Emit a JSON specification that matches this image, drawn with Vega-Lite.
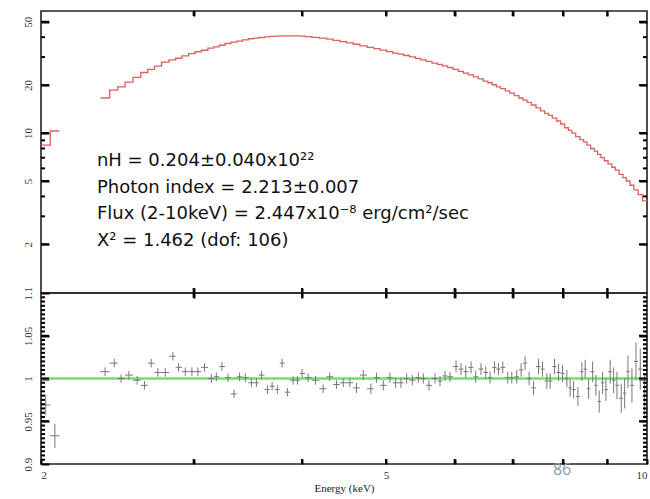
{
  "$schema": "https://vega.github.io/schema/vega-lite/v6.json",
  "padding": {"left": 13, "top": 9, "right": 0, "bottom": 0},
  "background": "white",
  "config": {
    "view": {"stroke": "#222", "strokeWidth": 1.6},
    "axis": {"labelFont": "Liberation Serif", "titleFont": "Liberation Serif", "labelColor": "#333", "titleColor": "#222", "ticks": true, "tickColor": "#000", "tickOpacity": 1, "tickWidth": 2, "zindex": 1, "domain": false, "grid": false, "labelFontSize": 11}
  },
  "datasets": {
    "bins": [
      {"E":2.025,"lo":2.0,"hi":2.05,"model":8.4,"ratio":0.969,"err":0.012,"seg":"a"},
      {"E":2.075,"lo":2.05,"hi":2.10,"model":10.3,"ratio":0.933,"err":0.014,"seg":"a"},
      {"lo":2.10,"model":10.3,"seg":"a"},
      {"E":2.371,"lo":2.342,"hi":2.400,"model":16.6,"ratio":1.008,"err":0.005,"seg":"b"},
      {"E":2.430,"lo":2.400,"hi":2.452,"model":18.6,"ratio":1.018,"err":0.005,"seg":"b"},
      {"E":2.474,"lo":2.452,"hi":2.500,"model":19.5,"ratio":1.000,"err":0.005,"seg":"b"},
      {"E":2.526,"lo":2.500,"hi":2.554,"model":20.9,"ratio":1.004,"err":0.005,"seg":"b"},
      {"E":2.582,"lo":2.554,"hi":2.607,"model":22.4,"ratio":0.998,"err":0.005,"seg":"b"},
      {"E":2.633,"lo":2.607,"hi":2.656,"model":24.0,"ratio":0.992,"err":0.005,"seg":"b"},
      {"E":2.680,"lo":2.656,"hi":2.704,"model":25.1,"ratio":1.018,"err":0.005,"seg":"b"},
      {"E":2.728,"lo":2.704,"hi":2.755,"model":26.3,"ratio":1.007,"err":0.005,"seg":"b"},
      {"E":2.782,"lo":2.755,"hi":2.810,"model":27.9,"ratio":1.007,"err":0.005,"seg":"b"},
      {"E":2.839,"lo":2.810,"hi":2.860,"model":28.8,"ratio":1.026,"err":0.005,"seg":"b"},
      {"E":2.882,"lo":2.860,"hi":2.908,"model":29.5,"ratio":1.013,"err":0.005,"seg":"b"},
      {"E":2.934,"lo":2.908,"hi":2.960,"model":30.5,"ratio":1.008,"err":0.005,"seg":"b"},
      {"E":2.986,"lo":2.960,"hi":3.010,"model":31.5,"ratio":1.008,"err":0.005,"seg":"b"},
      {"E":3.034,"lo":3.010,"hi":3.061,"model":32.4,"ratio":1.008,"err":0.005,"seg":"b"},
      {"E":3.088,"lo":3.061,"hi":3.116,"model":33.1,"ratio":1.013,"err":0.005,"seg":"b"},
      {"E":3.144,"lo":3.116,"hi":3.165,"model":34.1,"ratio":1.000,"err":0.005,"seg":"b"},
      {"E":3.186,"lo":3.165,"hi":3.210,"model":34.8,"ratio":1.002,"err":0.005,"seg":"b"},
      {"E":3.234,"lo":3.210,"hi":3.260,"model":35.6,"ratio":1.014,"err":0.005,"seg":"b"},
      {"E":3.286,"lo":3.260,"hi":3.312,"model":36.5,"ratio":1.001,"err":0.005,"seg":"b"},
      {"E":3.339,"lo":3.312,"hi":3.364,"model":37.2,"ratio":0.982,"err":0.005,"seg":"b"},
      {"E":3.389,"lo":3.364,"hi":3.415,"model":37.8,"ratio":1.002,"err":0.005,"seg":"b"},
      {"E":3.441,"lo":3.415,"hi":3.469,"model":38.5,"ratio":1.001,"err":0.005,"seg":"b"},
      {"E":3.497,"lo":3.469,"hi":3.520,"model":39.1,"ratio":0.995,"err":0.005,"seg":"b"},
      {"E":3.544,"lo":3.520,"hi":3.567,"model":39.4,"ratio":0.995,"err":0.005,"seg":"b"},
      {"E":3.591,"lo":3.567,"hi":3.620,"model":39.8,"ratio":1.004,"err":0.005,"seg":"b"},
      {"E":3.649,"lo":3.620,"hi":3.672,"model":40.2,"ratio":0.987,"err":0.005,"seg":"b"},
      {"E":3.695,"lo":3.672,"hi":3.721,"model":40.5,"ratio":0.991,"err":0.005,"seg":"b"},
      {"E":3.747,"lo":3.721,"hi":3.770,"model":40.6,"ratio":0.987,"err":0.005,"seg":"b"},
      {"E":3.794,"lo":3.770,"hi":3.821,"model":40.8,"ratio":1.018,"err":0.005,"seg":"b"},
      {"E":3.848,"lo":3.821,"hi":3.877,"model":40.8,"ratio":0.984,"err":0.005,"seg":"b"},
      {"E":3.907,"lo":3.877,"hi":3.929,"model":40.8,"ratio":0.998,"err":0.005,"seg":"b"},
      {"E":3.952,"lo":3.929,"hi":3.976,"model":40.7,"ratio":0.998,"err":0.005,"seg":"b"},
      {"E":4.001,"lo":3.976,"hi":4.033,"model":40.6,"ratio":1.006,"err":0.005,"seg":"b"},
      {"E":4.066,"lo":4.033,"hi":4.106,"model":40.3,"ratio":1.001,"err":0.005,"seg":"b"},
      {"E":4.146,"lo":4.106,"hi":4.188,"model":39.9,"ratio":0.998,"err":0.005,"seg":"b"},
      {"E":4.231,"lo":4.188,"hi":4.268,"model":39.4,"ratio":0.988,"err":0.005,"seg":"b"},
      {"E":4.306,"lo":4.268,"hi":4.345,"model":38.9,"ratio":1.002,"err":0.005,"seg":"b"},
      {"E":4.384,"lo":4.345,"hi":4.423,"model":38.2,"ratio":0.993,"err":0.005,"seg":"b"},
      {"E":4.463,"lo":4.423,"hi":4.502,"model":37.5,"ratio":0.995,"err":0.005,"seg":"b"},
      {"E":4.542,"lo":4.502,"hi":4.582,"model":36.8,"ratio":0.995,"err":0.005,"seg":"b"},
      {"E":4.623,"lo":4.582,"hi":4.665,"model":36.1,"ratio":0.989,"err":0.006,"seg":"b"},
      {"E":4.707,"lo":4.665,"hi":4.755,"model":35.3,"ratio":1.004,"err":0.006,"seg":"b"},
      {"E":4.803,"lo":4.755,"hi":4.839,"model":34.5,"ratio":0.988,"err":0.006,"seg":"b"},
      {"E":4.876,"lo":4.839,"hi":4.920,"model":33.9,"ratio":1.001,"err":0.006,"seg":"b"},
      {"E":4.964,"lo":4.920,"hi":5.008,"model":33.2,"ratio":0.992,"err":0.006,"seg":"b"},
      {"E":5.052,"lo":5.008,"hi":5.090,"model":32.5,"ratio":1.001,"err":0.006,"seg":"b"},
      {"E":5.129,"lo":5.090,"hi":5.165,"model":31.8,"ratio":0.995,"err":0.006,"seg":"b"},
      {"E":5.202,"lo":5.165,"hi":5.241,"model":31.3,"ratio":0.995,"err":0.006,"seg":"b"},
      {"E":5.281,"lo":5.241,"hi":5.321,"model":30.7,"ratio":1.000,"err":0.006,"seg":"b"},
      {"E":5.362,"lo":5.321,"hi":5.405,"model":30.1,"ratio":0.998,"err":0.006,"seg":"b"},
      {"E":5.448,"lo":5.405,"hi":5.484,"model":29.4,"ratio":1.001,"err":0.006,"seg":"b"},
      {"E":5.521,"lo":5.484,"hi":5.562,"model":28.8,"ratio":1.000,"err":0.006,"seg":"b"},
      {"E":5.604,"lo":5.562,"hi":5.649,"model":28.2,"ratio":0.992,"err":0.006,"seg":"b"},
      {"E":5.695,"lo":5.649,"hi":5.733,"model":27.5,"ratio":1.000,"err":0.006,"seg":"b"},
      {"E":5.771,"lo":5.733,"hi":5.809,"model":27.0,"ratio":0.997,"err":0.006,"seg":"b"},
      {"E":5.848,"lo":5.809,"hi":5.887,"model":26.4,"ratio":1.003,"err":0.006,"seg":"b"},
      {"E":5.926,"lo":5.887,"hi":5.974,"model":25.8,"ratio":1.002,"err":0.006,"seg":"b"},
      {"E":6.022,"lo":5.974,"hi":6.062,"model":25.1,"ratio":1.014,"err":0.007,"seg":"b"},
      {"E":6.102,"lo":6.062,"hi":6.140,"model":24.4,"ratio":1.011,"err":0.007,"seg":"b"},
      {"E":6.179,"lo":6.140,"hi":6.223,"model":23.8,"ratio":1.008,"err":0.007,"seg":"b"},
      {"E":6.267,"lo":6.223,"hi":6.306,"model":23.2,"ratio":1.013,"err":0.007,"seg":"b"},
      {"E":6.345,"lo":6.306,"hi":6.390,"model":22.5,"ratio":1.002,"err":0.007,"seg":"b"},
      {"E":6.435,"lo":6.390,"hi":6.475,"model":21.9,"ratio":1.011,"err":0.007,"seg":"b"},
      {"E":6.516,"lo":6.475,"hi":6.553,"model":21.2,"ratio":1.007,"err":0.007,"seg":"b"},
      {"E":6.591,"lo":6.553,"hi":6.630,"model":20.7,"ratio":1.001,"err":0.007,"seg":"b"},
      {"E":6.669,"lo":6.630,"hi":6.704,"model":20.1,"ratio":1.013,"err":0.007,"seg":"b"},
      {"E":6.740,"lo":6.704,"hi":6.779,"model":19.5,"ratio":1.011,"err":0.007,"seg":"b"},
      {"E":6.818,"lo":6.779,"hi":6.863,"model":19.0,"ratio":1.013,"err":0.007,"seg":"b"},
      {"E":6.909,"lo":6.863,"hi":6.946,"model":18.4,"ratio":1.001,"err":0.007,"seg":"b"},
      {"E":6.983,"lo":6.946,"hi":7.029,"model":17.8,"ratio":1.001,"err":0.007,"seg":"b"},
      {"E":7.076,"lo":7.029,"hi":7.117,"model":17.2,"ratio":1.002,"err":0.008,"seg":"b"},
      {"E":7.158,"lo":7.117,"hi":7.196,"model":16.6,"ratio":1.010,"err":0.008,"seg":"b"},
      {"E":7.234,"lo":7.196,"hi":7.273,"model":16.1,"ratio":1.018,"err":0.008,"seg":"b"},
      {"E":7.312,"lo":7.273,"hi":7.355,"model":15.6,"ratio":1.000,"err":0.008,"seg":"b"},
      {"E":7.398,"lo":7.355,"hi":7.447,"model":15.0,"ratio":0.989,"err":0.008,"seg":"b"},
      {"E":7.497,"lo":7.447,"hi":7.537,"model":14.4,"ratio":1.014,"err":0.009,"seg":"b"},
      {"E":7.577,"lo":7.537,"hi":7.620,"model":13.8,"ratio":1.011,"err":0.009,"seg":"b"},
      {"E":7.664,"lo":7.620,"hi":7.698,"model":13.3,"ratio":0.997,"err":0.009,"seg":"b"},
      {"E":7.732,"lo":7.698,"hi":7.777,"model":12.9,"ratio":0.997,"err":0.009,"seg":"b"},
      {"E":7.823,"lo":7.777,"hi":7.865,"model":12.4,"ratio":1.014,"err":0.009,"seg":"b"},
      {"E":7.907,"lo":7.865,"hi":7.949,"model":11.9,"ratio":1.007,"err":0.010,"seg":"b"},
      {"E":7.991,"lo":7.949,"hi":8.037,"model":11.4,"ratio":1.006,"err":0.010,"seg":"b"},
      {"E":8.083,"lo":8.037,"hi":8.118,"model":10.8,"ratio":1.000,"err":0.010,"seg":"b"},
      {"E":8.154,"lo":8.118,"hi":8.191,"model":10.4,"ratio":0.989,"err":0.010,"seg":"b"},
      {"E":8.228,"lo":8.191,"hi":8.275,"model":10.0,"ratio":0.987,"err":0.010,"seg":"b"},
      {"E":8.323,"lo":8.275,"hi":8.367,"model":9.5,"ratio":0.979,"err":0.011,"seg":"b"},
      {"E":8.412,"lo":8.367,"hi":8.449,"model":9.1,"ratio":1.008,"err":0.011,"seg":"b"},
      {"E":8.486,"lo":8.449,"hi":8.524,"model":8.8,"ratio":1.011,"err":0.011,"seg":"b"},
      {"E":8.563,"lo":8.524,"hi":8.609,"model":8.4,"ratio":0.988,"err":0.012,"seg":"b"},
      {"E":8.655,"lo":8.609,"hi":8.693,"model":8.0,"ratio":1.008,"err":0.012,"seg":"b"},
      {"E":8.731,"lo":8.693,"hi":8.769,"model":7.7,"ratio":0.992,"err":0.012,"seg":"b"},
      {"E":8.808,"lo":8.769,"hi":8.848,"model":7.35,"ratio":0.973,"err":0.013,"seg":"b"},
      {"E":8.888,"lo":8.848,"hi":8.927,"model":7.0,"ratio":0.995,"err":0.013,"seg":"b"},
      {"E":8.966,"lo":8.927,"hi":9.017,"model":6.7,"ratio":0.987,"err":0.013,"seg":"b"},
      {"E":9.069,"lo":9.017,"hi":9.110,"model":6.4,"ratio":1.008,"err":0.014,"seg":"b"},
      {"E":9.152,"lo":9.110,"hi":9.192,"model":6.1,"ratio":0.998,"err":0.015,"seg":"b"},
      {"E":9.233,"lo":9.192,"hi":9.286,"model":5.85,"ratio":0.992,"err":0.016,"seg":"b"},
      {"E":9.339,"lo":9.286,"hi":9.381,"model":5.5,"ratio":0.977,"err":0.017,"seg":"b"},
      {"E":9.424,"lo":9.381,"hi":9.465,"model":5.25,"ratio":0.983,"err":0.018,"seg":"b"},
      {"E":9.507,"lo":9.465,"hi":9.557,"model":5.0,"ratio":1.008,"err":0.019,"seg":"b"},
      {"E":9.608,"lo":9.557,"hi":9.659,"model":4.7,"ratio":0.992,"err":0.020,"seg":"b"},
      {"E":9.711,"lo":9.659,"hi":9.767,"model":4.4,"ratio":1.020,"err":0.022,"seg":"b"},
      {"E":9.823,"lo":9.767,"hi":9.881,"model":4.1,"ratio":1.011,"err":0.024,"seg":"b"},
      {"E":9.939,"lo":9.881,"hi":10.0,"model":3.75,"ratio":0.979,"err":0.026,"seg":"b"},
      {"lo":10.0,"model":3.75,"seg":"b"}
    ],
    "notes": [
      {"E":2.32,"v":6.21,"label":"nH = 0.204±0.040x10²²"},
      {"E":2.32,"v":4.2,"label":"Photon index = 2.213±0.007"},
      {"E":2.32,"v":2.88,"label":"Flux (2-10keV) = 2.447x10⁻⁸ erg/cm²/sec"},
      {"E":2.32,"v":1.95,"label":"X² = 1.462 (dof: 106)"}
    ],
    "page": [
      {"E":7.98,"r":0.893,"label":"86"}
    ],
    "xTicks": [{"e":3},{"e":4},{"e":5},{"e":6},{"e":7},{"e":8},{"e":9}],
    "logMajor": [{"v":2},{"v":5},{"v":10},{"v":20},{"v":50}],
    "logMinor": [{"v":3},{"v":4},{"v":6},{"v":7},{"v":8},{"v":9},{"v":30},{"v":40}],
    "ratioMajor": [{"v":0.95},{"v":1},{"v":1.05}],
    "ratioMinor": [{"v":0.905},{"v":0.91},{"v":0.915},{"v":0.92},{"v":0.925},{"v":0.93},{"v":0.935},{"v":0.94},{"v":0.945},{"v":0.955},{"v":0.96},{"v":0.965},{"v":0.97},{"v":0.975},{"v":0.98},{"v":0.985},{"v":0.99},{"v":0.995},{"v":1.005},{"v":1.01},{"v":1.015},{"v":1.02},{"v":1.025},{"v":1.03},{"v":1.035},{"v":1.04},{"v":1.045},{"v":1.055},{"v":1.06},{"v":1.065},{"v":1.07},{"v":1.075},{"v":1.08},{"v":1.085},{"v":1.09},{"v":1.095}]
  },
  "vconcat": [
    {
      "width": 606,
      "height": 282,
      "layer": [
        {
          "data": {"name": "bins"},
          "mark": {"type": "line", "interpolate": "step-after", "color": "#e0605f", "strokeWidth": 1.3},
          "encoding": {
            "x": {"field": "lo", "type": "quantitative", "scale": {"type": "log", "domain": [2, 10], "nice": false},
              "axis": {"orient": "bottom", "values": [3,4,5,6,7,8,9], "labels": false, "title": null, "offset": -5, "tickSize": 5, "minExtent": 0, "maxExtent": 0}},
            "y": {"field": "model", "type": "quantitative", "scale": {"type": "log", "domain": [0.99, 58.4], "nice": false},
              "axis": {"orient": "left", "values": [2,5,10,20,50],
                "labelExpr": "format(datum.value, '~g')",
                "offset": -8, "tickSize": 8,
                "labelAngle": 270, "labelAlign": "center", "labelBaseline": "middle", "labelPadding": 13,
                "title": null, "minExtent": 35, "maxExtent": 35}},
            "detail": {"field": "seg"}
          }
        },
        {
          "data": {"name": "notes"},
          "mark": {"type": "text", "align": "left", "baseline": "alphabetic", "font": "DejaVu Sans", "fontSize": 18, "color": "#111"},
          "encoding": {
            "x": {"field": "E", "type": "quantitative", "scale": {"type": "log", "domain": [2, 10], "nice": false},
              "axis": {"orient": "top", "values": [3,4,5,6,7,8,9], "labels": false, "title": null, "offset": -5, "tickSize": 5, "minExtent": 0, "maxExtent": 0}},
            "y": {"field": "v", "type": "quantitative", "scale": {"type": "log", "domain": [0.99, 58.4], "nice": false},
              "axis": {"orient": "right", "values": [2,5,10,20,50], "labels": false, "title": null,
                "offset": -8, "tickSize": 8, "minExtent": 0, "maxExtent": 0}},
            "text": {"field": "label"}
          }
        },
        {
          "data": {"name": "logMajor"},
          "mark": {"type": "rule", "color": "#000", "strokeWidth": 2},
          "encoding": {
            "x": {"datum": 2, "type": "quantitative", "scale": {"type": "log", "domain": [2, 10], "nice": false}, "axis": null},
            "x2": {"datum": 2.043},
            "y": {"field": "v", "type": "quantitative", "scale": {"type": "log", "domain": [0.99, 58.4], "nice": false}, "axis": null}
          }
        },
        {
          "data": {"name": "logMajor"},
          "mark": {"type": "rule", "color": "#000", "strokeWidth": 2},
          "encoding": {
            "x": {"datum": 9.79, "type": "quantitative", "scale": {"type": "log", "domain": [2, 10], "nice": false}, "axis": null},
            "x2": {"datum": 10},
            "y": {"field": "v", "type": "quantitative", "scale": {"type": "log", "domain": [0.99, 58.4], "nice": false}, "axis": null}
          }
        },
        {
          "data": {"name": "logMinor"},
          "mark": {"type": "rule", "color": "#000", "strokeWidth": 2},
          "encoding": {
            "x": {"datum": 2, "type": "quantitative", "scale": {"type": "log", "domain": [2, 10], "nice": false}, "axis": null},
            "x2": {"datum": 2.0214},
            "y": {"field": "v", "type": "quantitative", "scale": {"type": "log", "domain": [0.99, 58.4], "nice": false}, "axis": null}
          }
        },
        {
          "data": {"name": "logMinor"},
          "mark": {"type": "rule", "color": "#000", "strokeWidth": 2},
          "encoding": {
            "x": {"datum": 9.894, "type": "quantitative", "scale": {"type": "log", "domain": [2, 10], "nice": false}, "axis": null},
            "x2": {"datum": 10},
            "y": {"field": "v", "type": "quantitative", "scale": {"type": "log", "domain": [0.99, 58.4], "nice": false}, "axis": null}
          }
        },
        {
          "data": {"name": "xTicks"},
          "mark": {"type": "rule", "color": "#000", "strokeWidth": 2},
          "encoding": {
            "x": {"field": "e", "type": "quantitative", "scale": {"type": "log", "domain": [2, 10], "nice": false}, "axis": null},
            "y": {"datum": 54.33, "type": "quantitative", "scale": {"type": "log", "domain": [0.99, 58.4], "nice": false}, "axis": null},
            "y2": {"datum": 58.4}
          }
        },
        {
          "data": {"name": "xTicks"},
          "mark": {"type": "rule", "color": "#000", "strokeWidth": 2},
          "encoding": {
            "x": {"field": "e", "type": "quantitative", "scale": {"type": "log", "domain": [2, 10], "nice": false}, "axis": null},
            "y": {"datum": 0.99, "type": "quantitative", "scale": {"type": "log", "domain": [0.99, 58.4], "nice": false}, "axis": null},
            "y2": {"datum": 1.064}
          }
        }
      ],
      "resolve": {"axis": {"x": "independent", "y": "independent"}}
    },
    {
      "width": 606,
      "height": 171,
      "layer": [
        {
          "data": {"values": [{}]},
          "mark": {"type": "rule", "color": "#6be36b", "strokeWidth": 2.6},
          "encoding": {
            "y": {"datum": 1, "type": "quantitative", "scale": {"domain": [0.9, 1.1], "nice": false, "zero": false}, "axis": null}
          }
        },
        {
          "data": {"name": "bins"},
          "mark": {"type": "rule", "color": "#777", "strokeWidth": 1},
          "encoding": {
            "x": {"field": "lo", "type": "quantitative", "scale": {"type": "log", "domain": [2, 10], "nice": false},
              "axis": {"orient": "bottom", "values": [2,3,4,5,6,7,8,9,10],
                "labelExpr": "(datum.value == 2 || datum.value == 5 || datum.value == 10) ? format(datum.value, '~g') : ''",
                "offset": -5, "tickSize": 5, "labelPadding": 5, "title": "Energy (keV)", "titleFontSize": 11, "titleFontWeight": "normal", "titlePadding": 3,
                "minExtent": 20, "maxExtent": 20}},
            "x2": {"field": "hi"},
            "y": {"field": "ratio", "type": "quantitative", "scale": {"domain": [0.9, 1.1], "nice": false, "zero": false},
              "axis": {"orient": "left", "values": [0.9,0.95,1,1.05,1.1],
                "labelExpr": "format(datum.value, '~g')",
                "offset": -8, "tickSize": 8,
                "labelAngle": 270, "labelAlign": "center", "labelBaseline": "middle", "labelPadding": 13,
                "title": null, "minExtent": 35, "maxExtent": 35}}
          }
        },
        {
          "data": {"name": "bins"},
          "mark": {"type": "errorbar", "color": "#777", "thickness": 1},
          "encoding": {
            "x": {"field": "E", "type": "quantitative", "scale": {"type": "log", "domain": [2, 10], "nice": false}, "axis": null},
            "y": {"field": "ratio", "type": "quantitative", "scale": {"domain": [0.9, 1.1], "nice": false, "zero": false}, "axis": null},
            "yError": {"field": "err"}
          }
        },
        {
          "data": {"name": "page"},
          "mark": {"type": "text", "align": "center", "baseline": "middle", "font": "Open Sans", "fontSize": 16, "color": "#8797ad"},
          "encoding": {
            "x": {"field": "E", "type": "quantitative", "scale": {"type": "log", "domain": [2, 10], "nice": false},
              "axis": {"orient": "top", "values": [3,4,5,6,7,8,9], "labels": false, "title": null, "offset": -5, "tickSize": 5, "minExtent": 0, "maxExtent": 0}},
            "y": {"field": "r", "type": "quantitative", "scale": {"domain": [0.9, 1.1], "nice": false, "zero": false},
              "axis": {"orient": "right", "values": [0.95,1,1.05], "labels": false, "title": null, "offset": -8, "tickSize": 8, "minExtent": 0, "maxExtent": 0}},
            "text": {"field": "label"}
          }
        },
        {
          "data": {"name": "ratioMajor"},
          "mark": {"type": "rule", "color": "#000", "strokeWidth": 2},
          "encoding": {
            "x": {"datum": 2, "type": "quantitative", "scale": {"type": "log", "domain": [2, 10], "nice": false}, "axis": null},
            "x2": {"datum": 2.043},
            "y": {"field": "v", "type": "quantitative", "scale": {"domain": [0.9, 1.1], "nice": false, "zero": false}, "axis": null}
          }
        },
        {
          "data": {"name": "ratioMajor"},
          "mark": {"type": "rule", "color": "#000", "strokeWidth": 2},
          "encoding": {
            "x": {"datum": 9.79, "type": "quantitative", "scale": {"type": "log", "domain": [2, 10], "nice": false}, "axis": null},
            "x2": {"datum": 10},
            "y": {"field": "v", "type": "quantitative", "scale": {"domain": [0.9, 1.1], "nice": false, "zero": false}, "axis": null}
          }
        },
        {
          "data": {"name": "ratioMinor"},
          "mark": {"type": "rule", "color": "#000", "strokeWidth": 2},
          "encoding": {
            "x": {"datum": 2, "type": "quantitative", "scale": {"type": "log", "domain": [2, 10], "nice": false}, "axis": null},
            "x2": {"datum": 2.0214},
            "y": {"field": "v", "type": "quantitative", "scale": {"domain": [0.9, 1.1], "nice": false, "zero": false}, "axis": null}
          }
        },
        {
          "data": {"name": "ratioMinor"},
          "mark": {"type": "rule", "color": "#000", "strokeWidth": 2},
          "encoding": {
            "x": {"datum": 9.894, "type": "quantitative", "scale": {"type": "log", "domain": [2, 10], "nice": false}, "axis": null},
            "x2": {"datum": 10},
            "y": {"field": "v", "type": "quantitative", "scale": {"domain": [0.9, 1.1], "nice": false, "zero": false}, "axis": null}
          }
        },
        {
          "data": {"name": "xTicks"},
          "mark": {"type": "rule", "color": "#000", "strokeWidth": 2},
          "encoding": {
            "x": {"field": "e", "type": "quantitative", "scale": {"type": "log", "domain": [2, 10], "nice": false}, "axis": null},
            "y": {"datum": 1.09415, "type": "quantitative", "scale": {"domain": [0.9, 1.1], "nice": false, "zero": false}, "axis": null},
            "y2": {"datum": 1.1}
          }
        },
        {
          "data": {"name": "xTicks"},
          "mark": {"type": "rule", "color": "#000", "strokeWidth": 2},
          "encoding": {
            "x": {"field": "e", "type": "quantitative", "scale": {"type": "log", "domain": [2, 10], "nice": false}, "axis": null},
            "y": {"datum": 0.9, "type": "quantitative", "scale": {"domain": [0.9, 1.1], "nice": false, "zero": false}, "axis": null},
            "y2": {"datum": 0.90585}
          }
        }
      ],
      "resolve": {"axis": {"x": "independent", "y": "independent"}}
    }
  ],
  "spacing": 0,
  "bounds": "flush"
}
